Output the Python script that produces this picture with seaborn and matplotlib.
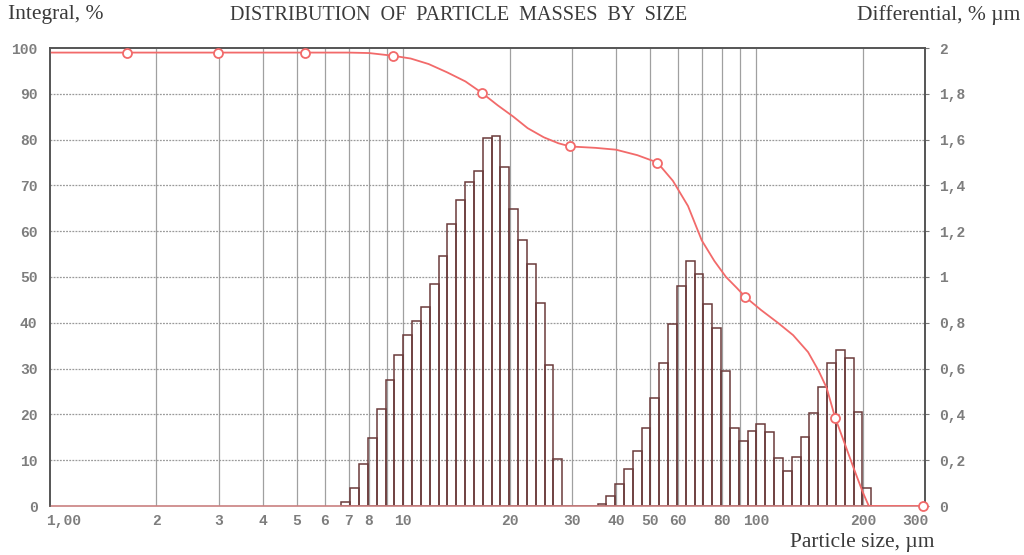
import numpy as np
import pandas as pd
import matplotlib
matplotlib.use("Agg")
import matplotlib.pyplot as plt
import matplotlib.transforms as mtransforms
import seaborn as sns
from matplotlib.ticker import FixedLocator, FixedFormatter, NullLocator, NullFormatter

# ---- data -----------------------------------------------------------------
# Size classes: 40 classes per decade, class k spans 10**(k/40) .. 10**((k+1)/40) um
first_class = 33
classes_per_decade = 40

# Differential distribution, % per um (one value per size class, k = 33 .. 92)
differential = [
    0.019, 0.078, 0.184, 0.298, 0.422, 0.550, 0.660, 0.748, 0.806, 0.870,
    0.970, 1.090, 1.230, 1.338, 1.414, 1.462, 1.608, 1.614, 1.482, 1.298,
    1.160, 1.056, 0.888, 0.614, 0.204,
    0.0, 0.0, 0.0, 0.0,
    0.010, 0.044, 0.094, 0.160, 0.238, 0.340, 0.472, 0.624, 0.796, 0.960,
    1.072, 1.012, 0.884, 0.776, 0.588, 0.340, 0.284, 0.328, 0.356, 0.322,
    0.208, 0.154, 0.212, 0.300, 0.408, 0.518, 0.624, 0.682, 0.648, 0.412,
    0.078,
]

# Integral distribution (% of mass above the given size)
integral_size = [1.0, 2.0, 4.0, 7.0, 8.0, 9.37, 10.5, 11.8, 13.3, 15.0,
                 16.7, 18.5, 20.5, 22.5, 25.0, 27.5, 29.7, 35.0, 40.0, 46.0,
                 52.4, 58.0, 64.0, 70.0, 76.0, 82.0, 88.0, 93.1, 103.0, 115.0,
                 127.0, 140.0, 150.0, 158.0, 167.0, 178.0, 189.0, 200.0, 208.0,
                 250.0, 300.0]
integral_pct = [99.0, 99.0, 99.0, 99.0, 98.9, 98.3, 97.7, 96.5, 94.7, 92.7,
                90.2, 87.5, 85.0, 82.5, 80.5, 79.2, 78.5, 78.2, 77.8, 76.6,
                75.0, 71.0, 65.5, 58.0, 53.5, 50.0, 47.6, 45.6, 42.8, 40.0,
                37.3, 33.6, 29.5, 25.8, 19.3, 13.5, 8.0, 3.0, 0.0,
                0.0, 0.0]

# Marked nodes on the integral curve
marker_size = [1.655, 2.98, 5.28, 9.37, 16.7, 29.7, 52.4, 93.1, 167.0, 297.0]
marker_pct = [99.0, 99.0, 99.0, 98.3, 90.2, 78.5, 75.0, 45.6, 19.3, 0.0]

# Axis labels
x_ticks = [1, 2, 3, 4, 5, 6, 7, 8, 9, 10, 20, 30, 40, 50, 60, 70, 80, 90, 100, 200, 300]
x_tick_labels = ["1,00", "2", "3", "4", "5", "6", "7", "8", "", "10", "20", "30",
                 "40", "50", "60", "", "80", "", "100", "200", "300"]
left_ticks = [0, 10, 20, 30, 40, 50, 60, 70, 80, 90, 100]
right_ticks = [0, 0.2, 0.4, 0.6, 0.8, 1.0, 1.2, 1.4, 1.6, 1.8, 2.0]
right_tick_labels = ["0", "0,2", "0,4", "0,6", "0,8", "1", "1,2", "1,4", "1,6", "1,8", "2"]

# ---- figure ---------------------------------------------------------------
sns.set_theme(style="white")
plt.rcParams["font.family"] = ["DejaVu Sans"]

fig = plt.figure(figsize=(10.24, 5.55), dpi=100)
ax = fig.add_axes([50 / 1024, 1 - 506 / 555, 875 / 1024, 458 / 555])

k = np.arange(first_class, first_class + len(differential) + 1)
edges_log = [float(v) for v in k / classes_per_decade]
centers = [10 ** ((a + b) / 2) for a, b in zip(edges_log[:-1], edges_log[1:])]
bars = pd.DataFrame({"size": centers, "diff": differential})

# Histogram of the differential distribution (outlined classes)
sns.histplot(data=bars, x="size", weights="diff", bins=edges_log, log_scale=True,
             stat="count", fill=False, element="bars", color="#6b3b3b",
             linewidth=1.1, ax=ax)

ax.set_xscale("log")
ax.set_xlim(1, 300)
ax.set_ylim(0, 2)
ax.set_xlabel("")
ax.set_ylabel("")

# Grid: solid verticals, dotted horizontals
for xv in x_ticks[1:]:
    ax.axvline(xv, color="#a0a0a0", lw=0.9, zorder=0.5)
for yv in right_ticks[1:-1]:
    ax.axhline(yv, color="#9a9a9a", lw=0.9, ls=(0, (1.5, 1.0)), zorder=0.5)

# Integral curve on a twin axis (drawn above the bars)
ax2 = ax.twinx()
sns.lineplot(x=integral_size, y=integral_pct, color="#f26a6a", lw=1.3,
             ax=ax2, sort=False)
sns.scatterplot(x=marker_size, y=marker_pct, marker="o", s=42,
                facecolor="white", edgecolor="#f26a6a", linewidth=1.3,
                ax=ax2, zorder=5, clip_on=False)
ax2.set_xscale("log")
ax2.set_xlim(1, 300)
ax2.set_ylim(0, 100)
ax2.set_ylabel("")
ax2.set_xlabel("")

# ---- ticks (set after all scale changes) -----------------------------------
tick_font = dict(family="Liberation Mono", size=10.5, weight="bold", color="#7d7d7d")

ax.xaxis.set_major_locator(FixedLocator(x_ticks))
ax.xaxis.set_major_formatter(FixedFormatter(x_tick_labels))
ax.xaxis.set_minor_locator(NullLocator())
ax.xaxis.set_minor_formatter(NullFormatter())
ax.tick_params(axis="x", which="both", length=0, pad=6)
xlabels = ax.get_xticklabels()
for lab in xlabels:
    lab.set(**tick_font)
# end labels sit inside the plot frame
xlabels[0].set_transform(xlabels[0].get_transform()
                         + mtransforms.ScaledTranslation(14 / 100, 0, fig.dpi_scale_trans))
xlabels[-1].set_transform(xlabels[-1].get_transform()
                          + mtransforms.ScaledTranslation(-10 / 100, 0, fig.dpi_scale_trans))

# Differential scale on the right
ax.yaxis.tick_right()
ax.yaxis.set_label_position("right")
ax.yaxis.set_major_locator(FixedLocator(right_ticks))
ax.yaxis.set_major_formatter(FixedFormatter(right_tick_labels))
ax.yaxis.set_minor_locator(NullLocator())
ax.tick_params(axis="y", length=3, width=0.8, color="#777777", pad=7,
               right=True, left=False, labelright=True, labelleft=False)
for lab in ax.get_yticklabels():
    lab.set(**tick_font)

# Integral scale on the left
ax2.yaxis.tick_left()
ax2.yaxis.set_label_position("left")
ax2.yaxis.set_major_locator(FixedLocator(left_ticks))
ax2.yaxis.set_minor_locator(NullLocator())
ax2.tick_params(axis="y", length=0, pad=9, left=True, right=False,
                labelleft=True, labelright=False)
ax2.tick_params(axis="x", which="both", bottom=False, labelbottom=False)
for lab in ax2.get_yticklabels():
    lab.set(**tick_font)

for a in (ax, ax2):
    for side in ("left", "right", "top", "bottom"):
        a.spines[side].set_color("#555555")
        a.spines[side].set_linewidth(1.2)
ax.spines["bottom"].set_color("#c98080")
ax2.spines["bottom"].set_visible(False)

# Titles and axis captions
serif = dict(family="Liberation Serif", color="#3a3a3a")
fig.text(8 / 1024, 1 - 15 / 555, "Integral, %", ha="left", va="center", size=15.5, **serif)
fig.text(459 / 1024, 1 - 15 / 555, "DISTRIBUTION  OF  PARTICLE  MASSES  BY  SIZE",
         ha="center", va="center", size=14.5, **serif)
fig.text(1020 / 1024, 1 - 15 / 555, "Differential, % µm", ha="right", va="center",
         size=15.5, **serif)
fig.text(934 / 1024, 1 - 543 / 555, "Particle size, µm", ha="right", va="center",
         size=15.5, **serif)

fig.savefig("out.png", dpi=100, facecolor="white")
